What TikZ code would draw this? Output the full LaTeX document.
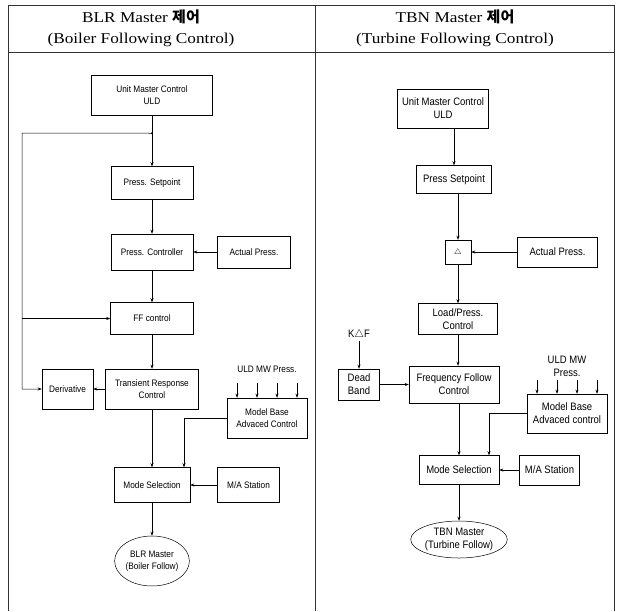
\documentclass[tikz,border=0pt]{standalone}
\usepackage{fontspec}
\setmainfont{Liberation Serif}
\newfontfamily\headfont[FakeStretch=1.15]{Liberation Serif}
\newfontfamily\krfont{Noto Sans CJK KR}
\newfontfamily\boxfont[FakeStretch=0.88]{Liberation Sans}
\usetikzlibrary{arrows.meta,positioning,calc,shapes.geometric}

\begin{document}
\begin{tikzpicture}[
  x=1pt, y=1pt,
  every node/.style={inner sep=1pt},
  head/.style={font=\headfont\fontsize{15}{18}\selectfont},
  box/.style={draw, line width=0.5pt, align=center, inner sep=1pt,
    font=\boxfont\fontsize{9.4}{12}\selectfont},
  boxb/.style={box, font=\boxfont\fontsize{10.8}{13}\selectfont},
  oval/.style={box, ellipse, inner sep=0pt},
  lbl/.style={align=center, font=\boxfont\fontsize{9.4}{12}\selectfont},
  arr/.style={-{Stealth[length=4pt, width=3pt]}, line width=0.5pt},
  frame/.style={line width=0.8pt, black!80}
]
\useasboundingbox (0,0) rectangle (617,-611);

% frame and headings
\draw[frame] (8,-611) -- (8,-5) -- (614,-5) -- (614,-611);
\draw[frame] (8,-52) -- (614,-52);
\draw[frame] (315,-5) -- (315,-611);
\node[head] (ha) at (141,-17) {BLR Master {\krfont\bfseries 제어}};
\node[head] (hb) at (141,-40) {(Boiler Following Control)};
\node[head] (hc) at (455,-17) {TBN Master {\krfont\bfseries 제어}};
\node[head] (hd) at (455,-40) {(Turbine Following Control)};

% boiler following
\node[box, minimum width=121pt, minimum height=40pt] (umca) at (152,-95) {Unit Master Control\\ULD};
\node[box, minimum width=82pt, minimum height=33pt, below=51pt of umca] (psa) {Press. Setpoint};
\node[box, minimum width=82pt, minimum height=36pt, below=34pt of psa] (pca) {Press. Controller};
\node[box, minimum width=73pt, minimum height=32pt, right=24pt of pca] (apa) {Actual Press.};
\node[box, minimum width=83pt, minimum height=32pt, below=32pt of pca] (ffa) {FF control};
\node[box, minimum width=93pt, minimum height=40pt, below=34pt of ffa] (trca) {Transient Response\\Control};
\node[box, minimum width=51pt, minimum height=40pt, left=12pt of trca] (dera) {Derivative};
\node[box, minimum width=80pt, minimum height=40pt] (mbaca) at (267,-418) {Model Base\\Advaced Control};
\node[lbl, above=24pt of mbaca] (fla) {ULD MW Press.};
\node[box, minimum width=76pt, minimum height=35pt, below=58pt of trca] (msa) {Mode Selection};
\node[box, minimum width=62pt, minimum height=35pt, right=27pt of msa] (maa) {M/A Station};
\node[oval, minimum width=74pt, minimum height=50pt, below=33pt of msa] (bfa) {BLR Master\\(Boiler Follow)};

\coordinate (ja) at ($(umca.south)+(0,-18)$);
\coordinate (la) at (22,-133);
\draw[arr] (umca) -- (psa);
\fill (ja) circle (1.2pt);
\draw[arr] (ja) -- (la) |- (dera);
\draw[arr] (la |- ffa) -- (ffa);
\draw[arr] (psa) -- (pca);
\draw[arr] (apa) -- (pca);
\draw[arr] (pca) -- (ffa);
\draw[arr] (ffa) -- (trca);
\draw[arr] (trca) -- (dera);
\draw[arr] (trca) -- (msa);
\draw[arr] (mbaca.west) -| ([xshift=32pt]msa.north);
\draw[arr] (maa) -- (msa);
\draw[arr] (msa) -- (bfa);
\foreach \dx [count=\i] in {-30,-10,10,30} {
  \coordinate (fa\i) at ([xshift=\dx pt, yshift=15pt]mbaca.north);
  \draw[arr] (fa\i) -- (fa\i |- mbaca.north);
}

% turbine following
\node[boxb, minimum width=91pt, minimum height=39pt] (umcb) at (443,-108.5) {Unit Master Control\\ULD};
\node[boxb, minimum width=75pt, minimum height=28pt, below=37pt of umcb, xshift=11pt] (psb) {Press Setpoint};
\node[boxb, minimum width=26pt, minimum height=24pt, below=46pt of psb, xshift=4pt] (delb) {$\scriptstyle\triangle$};
\node[boxb, minimum width=80pt, minimum height=30pt, right=46pt of delb] (apb) {Actual Press.};
\node[boxb, minimum width=79pt, minimum height=31pt, below=39pt of delb] (lpcb) {Load/Press.\\Control};
\node[boxb, minimum width=90pt, minimum height=37pt, below=31pt of lpcb, xshift=-4pt] (ffcb) {Frequency Follow\\Control};
\node[boxb, minimum width=41pt, minimum height=31pt, left=29pt of ffcb] (dbb) {Dead\\Band};
\node[lbl, font=\boxfont\fontsize{10.8}{13}\selectfont, above=28pt of dbb] (kaf) {K$\triangle$F};
\node[boxb, minimum width=80pt, minimum height=39pt] (mbacb) at (567,-413.5) {Model Base\\Advaced control};
\node[lbl, font=\boxfont\fontsize{10.8}{13}\selectfont, above=16pt of mbacb] (flb) {ULD MW\\Press.};
\node[boxb, minimum width=80pt, minimum height=29pt, below=52pt of ffcb, xshift=5pt] (msb) {Mode Selection};
\node[boxb, minimum width=60pt, minimum height=30pt, right=20pt of msb] (mab) {M/A Station};
\node[oval, font=\boxfont\fontsize{10.8}{13}\selectfont, minimum width=78pt, minimum height=37pt, below=36pt of msb] (tfb) {TBN Master\\(Turbine Follow)};

\draw[arr] (umcb.south -| psb) -- (psb);
\draw[arr] (psb.south -| delb) -- (delb);
\draw[arr] (apb) -- (delb);
\draw[arr] (delb) -- (delb |- lpcb.north);
\draw[arr] (lpcb) -- (lpcb |- ffcb.north);
\draw[arr] (kaf) -- (dbb);
\draw[arr] (dbb.east) -- (dbb.east -| ffcb.west);
\draw[arr] (ffcb.south -| msb) -- (msb);
\draw[arr] (mbacb.west) -| ([xshift=30pt]msb.north);
\draw[arr] (mab) -- (msb);
\draw[arr] (msb) -- (tfb);
\foreach \dx [count=\i] in {-30,-10,10,30} {
  \coordinate (fb\i) at ([xshift=\dx pt, yshift=14pt]mbacb.north);
  \draw[arr] (fb\i) -- (fb\i |- mbacb.north);
}
\end{tikzpicture}
\end{document}
